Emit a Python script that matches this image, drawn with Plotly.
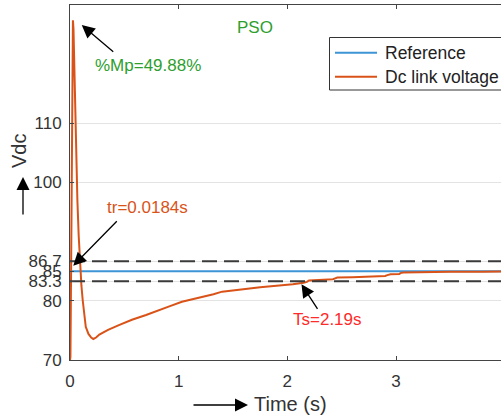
import plotly.graph_objects as go

# Time axis (s) and DC link voltage response (V)
time_s = [0.0, 0.004, 0.008, 0.016, 0.022, 0.027, 0.032, 0.040, 0.050, 0.060,
          0.068, 0.080, 0.092, 0.105, 0.117, 0.130, 0.145, 0.170, 0.195, 0.215,
          0.240, 0.270, 0.350, 0.450, 0.570, 0.700, 0.810, 0.920, 1.030, 1.140,
          1.240, 1.320, 1.400, 1.500, 1.580, 1.660, 1.750, 1.850, 1.960, 2.050,
          2.150, 2.180, 2.200, 2.300, 2.420, 2.440, 2.460, 2.600, 2.750, 2.900,
          2.920, 2.950, 3.030, 3.050, 3.070, 3.200, 3.500, 3.800, 3.970]
vdc = [70.0, 70.5, 80.0, 105.0, 122.0, 127.4, 126.0, 119.0, 110.0, 102.0,
       97.0, 91.0, 86.3, 82.6, 80.1, 77.5, 75.6, 74.4, 73.8, 73.55,
       73.8, 74.3, 75.1, 75.9, 76.8, 77.6, 78.4, 79.1, 79.85, 80.3,
       80.7, 81.1, 81.55, 81.8, 82.0, 82.15, 82.3, 82.45, 82.6, 82.8,
       83.05, 83.2, 83.45, 83.55, 83.65, 83.8, 83.95, 84.0, 84.1, 84.2,
       84.35, 84.5, 84.55, 84.75, 84.8, 84.85, 84.9, 84.93, 84.95]

reference_v = 85.0
band_upper = 86.7
band_lower = 83.3

x_range = [0, 3.966]
y_range = [70, 130]
y_ticks = [70, 80, 83.3, 85, 86.7, 100, 110]
y_tick_text = ["70", "80", "83.3", "85", "86.7", "100", "110"]
x_ticks = [0, 1, 2, 3, 4]

series_names = ["Reference", "Dc link voltage"]

# Annotated performance figures
overshoot_label = "%Mp=49.88%"
rise_label = "tr=0.0184s"
settle_label = "Ts=2.19s"
peak_pt = (0.108, 126.6)
rise_pt = (0.030, 85.94)
settle_pt = (2.13, 82.8)

FONT = "Liberation Sans, Arial, sans-serif"
BLUE = "#3D95D6"
ORANGE = "#D95319"
GREEN = "#2E9E2E"
RED = "#FF2A2A"
AXIS = "#444444"
TXT = "#333333"

fig = go.Figure()

fig.add_trace(go.Scatter(
    x=x_range, y=[reference_v, reference_v], mode="lines",
    line=dict(color=BLUE, width=2), name=series_names[0]))
fig.add_trace(go.Scatter(
    x=time_s, y=vdc, mode="lines",
    line=dict(color=ORANGE, width=2), name=series_names[1]))
for lvl in (band_upper, band_lower):
    fig.add_trace(go.Scatter(
        x=x_range, y=[lvl, lvl], mode="lines", showlegend=False,
        line=dict(color="#3a3a3a", width=2, dash="15px,7px"),
        hoverinfo="skip"))

annotations = []
shapes = []

def arrow(x, y, ax, ay, xref="x", yref="y"):
    annotations.append(dict(
        x=x, y=y, xref=xref, yref=yref, ax=ax, ay=ay, text="",
        showarrow=True, arrowhead=2, arrowsize=2.0, arrowwidth=1.3,
        arrowcolor="black"))

def label(x, y, text, color, size=17, xref="paper", yref="paper", angle=0,
          xanchor="center"):
    annotations.append(dict(
        x=x, y=y, xref=xref, yref=yref, text=text, showarrow=False,
        textangle=angle, xanchor=xanchor, yanchor="middle",
        font=dict(family=FONT, size=size, color=color)))

# pixel -> paper helpers for the 501x420 canvas (plot area x 70..501, y 5..360)
def px(p):
    return (p - 70) / 431.0

def py(p):
    return (360 - p) / 355.0

arrow(peak_pt[0], peak_pt[1], 33, 28)
arrow(rise_pt[0], rise_pt[1], 45, -46)
arrow(settle_pt[0], settle_pt[1], 17, 26)

label(px(148), py(65), overshoot_label, GREEN)
label(px(255), py(27), "PSO", GREEN)
label(px(147), py(207), rise_label, ORANGE)
label(px(327), py(319), settle_label, RED)

# axis titles with direction arrows
label(px(19), py(151), "Vdc", TXT, size=20, angle=-90)
arrow(px(23), py(177), 0, 39, xref="paper", yref="paper")
label(px(290), py(404), "Time (s)", TXT, size=20)
arrow(px(248), py(405), -56, 0, xref="paper", yref="paper")

# legend box with line samples
shapes.append(dict(type="rect", xref="paper", yref="paper",
                   x0=px(329.5), x1=px(520), y0=py(90), y1=py(37.5),
                   line=dict(color="#333333", width=1), fillcolor="white",
                   layer="above"))
for row_y, col, name in ((52.7, BLUE, series_names[0]),
                         (76.7, ORANGE, series_names[1])):
    shapes.append(dict(type="line", xref="paper", yref="paper",
                       x0=px(335), x1=px(377), y0=py(row_y), y1=py(row_y),
                       line=dict(color=col, width=2), layer="above"))
    label(px(383), py(row_y), name, "#222222", size=17.5, xanchor="left")

fig.update_layout(
    width=501, height=420,
    margin=dict(l=70, r=0, t=5, b=60, autoexpand=False),
    paper_bgcolor="white", plot_bgcolor="white",
    font=dict(family=FONT, size=17, color=TXT),
    showlegend=False,
    annotations=annotations,
    shapes=shapes,
)
fig.update_xaxes(
    range=x_range, tickvals=x_ticks, showgrid=False, zeroline=False,
    showline=True, linecolor=AXIS, linewidth=1, mirror="ticks",
    ticks="inside", ticklen=4, tickcolor=AXIS, ticklabelstandoff=6,
    tickfont=dict(family=FONT, size=17, color=TXT))
fig.update_yaxes(
    range=y_range, tickvals=y_ticks, ticktext=y_tick_text,
    showgrid=True, gridcolor="#E3E3E3", gridwidth=1, zeroline=False,
    showline=True, linecolor=AXIS, linewidth=1, mirror=False,
    ticks="inside", ticklen=4, tickcolor=AXIS, ticklabelstandoff=4,
    tickfont=dict(family=FONT, size=17, color=TXT))

fig.write_html("out.html")
